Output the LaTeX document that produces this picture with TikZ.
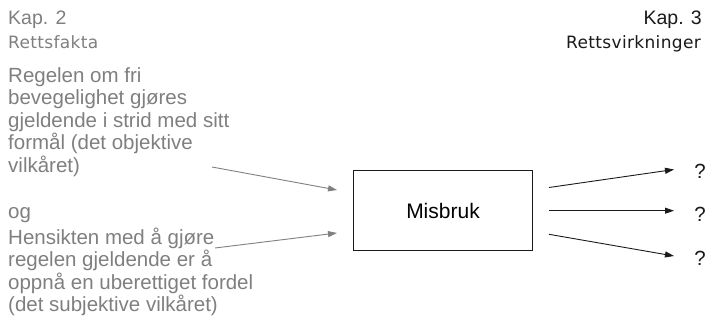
\documentclass[tikz,border=0pt]{standalone}
\usepackage{fontspec}
\setmainfont{Liberation Sans}
\newfontfamily\headfont{DejaVu Sans}
\usetikzlibrary{arrows.meta}
\definecolor{txtgray}{HTML}{7F7F7F}
\definecolor{linegray}{HTML}{808080}
\definecolor{darkline}{HTML}{1A1A1A}
\tikzset{
  lefttext/.style={inner sep=0pt, anchor=base west, align=left, text=txtgray,
    font=\fontsize{20.5}{22.5}\selectfont},
  kaptext/.style={inner sep=0pt, font=\fontsize{19.5}{21}\selectfont},
  headtext/.style={inner sep=0pt, font=\headfont\fontsize{17}{19}\selectfont\addfontfeatures{LetterSpace=2}},
  inarrow/.style={draw=linegray, line width=0.9pt, -{Triangle[length=9pt,width=6pt]}},
  outarrow/.style={draw=darkline, line width=0.9pt, -{Triangle[length=9pt,width=6pt]}},
  mainbox/.style={draw=darkline, line width=1.2pt, minimum width=179pt, minimum height=80pt,
    inner sep=0pt, font=\fontsize{21}{24}\selectfont},
  qmark/.style={inner sep=0pt, text=darkline, font=\fontsize{20.5}{22}\selectfont}
}
\begin{document}
\begin{tikzpicture}[x=1pt,y=-1pt]
\useasboundingbox (0,0) rectangle (708,334);
% headers
\node[kaptext, anchor=base west, text=txtgray] (kap2) at (8,25) {Kap. 2};
\node[headtext, anchor=base west, text=txtgray] (rf) at (8,49) {Rettsfakta};
\node[kaptext, anchor=base east, text=darkline] (kap3) at (702,25) {Kap. 3};
\node[headtext, anchor=base east, text=darkline] (rv) at (701,49) {Rettsvirkninger};
% left texts (base anchor = baseline of last line)
\node[lefttext] (obj) at (8,172) {Regelen om fri\\bevegelighet gjøres\\gjeldende i strid med sitt\\formål (det objektive\\vilkåret)};
\node[lefttext] (og) at (8,218) {og};
\node[lefttext] (subj) at (8,311.5) {Hensikten med å gjøre\\regelen gjeldende er å\\oppnå en uberettiget fordel\\(det subjektive vilkåret)};
% box
\node[mainbox] (mis) at (443,210.5) {Misbruk};
% coordinates
\coordinate (a1s) at (212,167);
\coordinate (a1e) at (337,190);
\coordinate (a2s) at (215,248);
\coordinate (a2e) at (337,233);
\coordinate (b1s) at (549,187.5);
\coordinate (b1e) at (674,169.5);
\coordinate (b2s) at (549,210.7);
\coordinate (b2e) at (674,210.7);
\coordinate (b3s) at (549,234.3);
\coordinate (b3e) at (674,256);
\draw[inarrow] (a1s) -- (a1e);
\draw[inarrow] (a2s) -- (a2e);
\draw[outarrow] (b1s) -- (b1e);
\draw[outarrow] (b2s) -- (b2e);
\draw[outarrow] (b3s) -- (b3e);
% question marks
\node[qmark] (q1) at (700,171) {?};
\node[qmark] (q2) at (700,214) {?};
\node[qmark] (q3) at (700,258) {?};
\end{tikzpicture}
\end{document}
